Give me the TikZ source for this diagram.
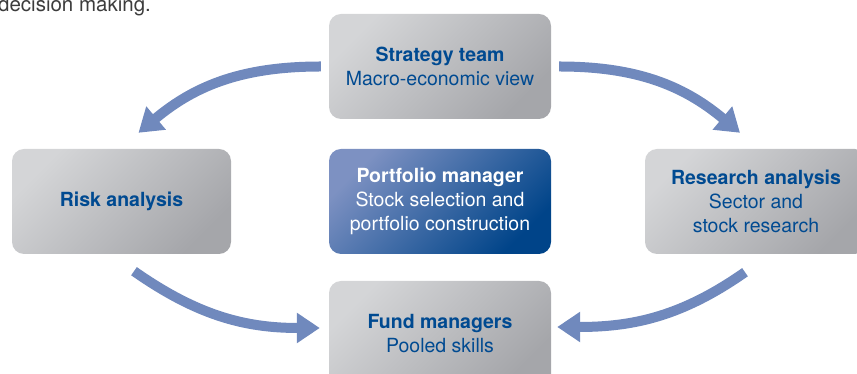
\documentclass[tikz,border=0pt]{standalone}
\usepackage{fontspec}
\setmainfont{TeX Gyre Heros}
\usetikzlibrary{arrows.meta}

\definecolor{titleblue}{RGB}{0,74,145}
\definecolor{arrowblue}{RGB}{112,137,189}
\definecolor{boxlight}{RGB}{212,213,215}
\definecolor{boxdark}{RGB}{165,166,170}
\definecolor{pmlight}{RGB}{125,145,194}
\definecolor{pmdark}{RGB}{0,68,137}
\definecolor{bodygray}{RGB}{60,60,60}

\begin{document}
\begin{tikzpicture}[x=1pt, y=1pt,
    every node/.style={font=\fontsize{19.5}{24}\selectfont},
    box/.style={rounded corners=12pt, minimum width=222pt, minimum height=105pt,
        align=center, text=titleblue, top color=boxlight, bottom color=boxdark,
        shading angle=45},
    pmbox/.style={box, top color=pmlight, bottom color=pmdark, shading angle=45,
        text=white},
    flow/.style={-{Triangle[length=23pt, width=29pt]}, line width=10pt, arrowblue}]

        \useasboundingbox (0,0) rectangle (857,374);
        \clip (0,0) rectangle (857,374);

        \node[anchor=base west, inner sep=0pt, text=bodygray, font=\fontsize{20.5}{24}\selectfont] (intro) at (-2,362) {decision making.};

        %=== Boxes ===
        \node[box] (strat) at (440,307.5) {\textbf{Strategy team}\\Macro-economic view};
        \node[pmbox] (pm) at (440,172.5) {\textbf{Portfolio manager}\\Stock selection and\\portfolio construction};
        \node[box, minimum width=219pt] (risk) at (121.5,172.5) {\textbf{Risk analysis}};
        \node[box] (research) at (756,172.5) {\textbf{Research analysis}\\Sector and\\stock research};
        \node[box] (fund) at (440,40.5) {\textbf{Fund managers}\\Pooled skills};

        %=== Arrows ===
        \draw[flow] ([xshift=-8pt]strat.west) to[out=180, in=40] ([shift={(17,16)}]risk.north);
        \draw[flow] ([xshift=8pt]strat.east) to[out=0, in=140] ([shift={(-16,16)}]research.north);
        \draw[flow] ([shift={(12.5,-17)}]risk.south) to[out=-35, in=180] ([shift={(-9,5.5)}]fund.west);
        \draw[flow] ([shift={(-11,-18)}]research.south) to[out=215, in=0] ([shift={(6,6.5)}]fund.east);
\end{tikzpicture}
\end{document}
